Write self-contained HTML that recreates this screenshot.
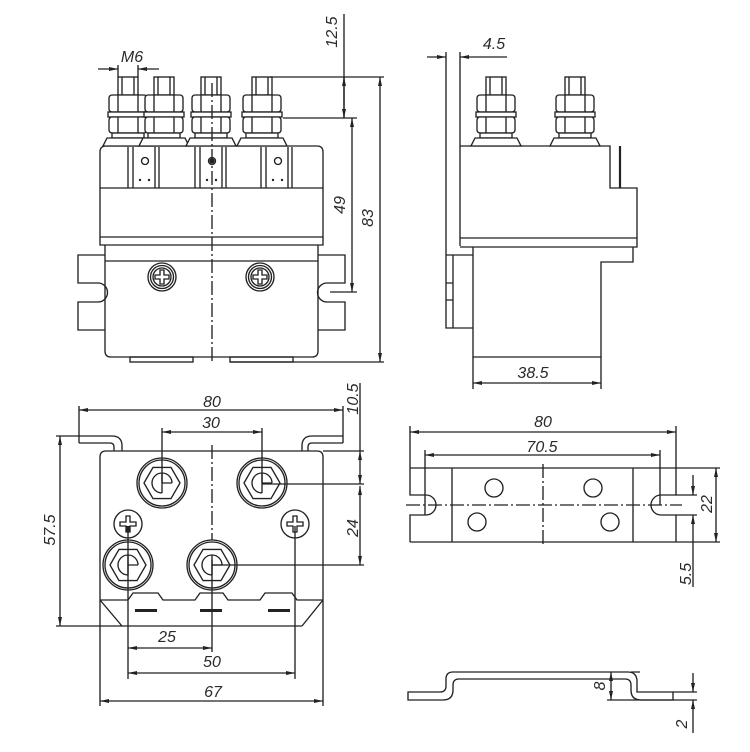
<!DOCTYPE html>
<html><head><meta charset="utf-8"><style>
html,body{margin:0;padding:0;background:#fff;}
svg{display:block;}
text{font-family:"Liberation Sans",sans-serif;font-style:italic;font-size:16px;fill:#2a2a2a;stroke:none;}
</style></head><body>
<svg width="750" height="752" viewBox="0 0 750 752" xmlns="http://www.w3.org/2000/svg">
<defs>
<marker id="a" viewBox="0 0 9 4" refX="9" refY="2" markerWidth="9" markerHeight="4" markerUnits="userSpaceOnUse" orient="auto-start-reverse"><path d="M0,0 L9,2 L0,4 z" fill="#222"/></marker>
<g id="term" stroke="#222" stroke-width="1.35" fill="#fff">
<rect x="-10" y="77" width="20" height="18"/>
<path d="M-6,77V95M6,77V95" fill="none"/>
<rect x="-19" y="95" width="38" height="17" rx="3"/>
<path d="M-10,95V112M10,95V112" fill="none"/>
<rect x="-20" y="112" width="40" height="5"/>
<rect x="-19" y="117" width="38" height="16" rx="3"/>
<path d="M-10,117V133M10,117V133" fill="none"/>
<rect x="-16" y="133" width="32" height="5"/>
<polygon points="-21,138 21,138 25,146 -25,146"/>
</g>
<g id="hexn" stroke="#222" stroke-width="1.35" fill="none">
<circle r="25" fill="#fff"/>
<circle r="23"/>
<polygon points="-18,0 -9,-15.6 9,-15.6 18,0 9,15.6 -9,15.6"/>
<path d="M0,10 A10,10 0 1 1 10,0 M0,0 H10 M0,-10 V10"/>
</g>
<g id="phil" stroke="#222" stroke-width="1.35" fill="none">
<circle r="14" fill="#fff"/>
<path d="M-2,-8H2V-2H8V2H2V8H-2V2H-8V-2H-2Z"/>
</g>
<g id="scr" stroke="#222" stroke-width="1.35" fill="none">
<circle r="14" fill="#fff"/>
<circle r="11.5"/>
<circle r="9"/>
<path d="M-2,-7H2V-2H7V2H2V7H-2V2H-7V-2H-2Z"/>
</g>
<g id="tab" stroke="#222" stroke-width="1.35" fill="none">
<path d="M-16,147V188M-11,147V188M11,147V188M15,147V188"/>
<circle cx="1" cy="161" r="3.5"/>
<circle cx="-4" cy="180" r="1.2" fill="#222" stroke="none"/>
<circle cx="5" cy="180" r="1.2" fill="#222" stroke="none"/>
</g>
</defs>

<g stroke="#222" stroke-width="1.35" fill="none">
<!-- ========== FRONT VIEW ========== -->
<path d="M100,188 V152 Q100,146 106,146 H317 Q323,146 323,152 V188"/>
<path d="M100,188 V245 H323 V188 Z"/>
<path d="M100,237 H323"/>
<path d="M105,245 V351 Q105,357 111,357 H312 Q318,357 318,351 V245"/>
<path d="M105,261 H318"/>
<rect x="130" y="357" width="63" height="5"/>
<rect x="230" y="357" width="63" height="5"/>
<path d="M105,255 H78 V283 H98 A9.5,9.5 0 0 1 98,302 H78 V330 H105"/>
<path d="M318,255 H345 V283 H327 A9.5,9.5 0 0 0 327,302 H345 V330 H318"/>
<use href="#tab" x="144"/>
<use href="#tab" x="211"/>
<use href="#tab" x="277"/>
<circle cx="212" cy="161" r="2" fill="#222"/>
<use href="#term" x="128"/>
<use href="#term" x="164"/>
<use href="#term" x="211"/>
<use href="#term" x="262"/>
<use href="#scr" x="162" y="277"/>
<use href="#scr" x="260" y="277"/>
<path d="M212,83 V363" stroke-dasharray="14 3 2 3"/>

<!-- M6 -->
<path d="M118,65 V77 M138,65 V77"/>
<path d="M98,69 H118" marker-end="url(#a)"/>
<path d="M159,69 H138" marker-end="url(#a)"/>
<!-- 12.5 / 49 / 83 -->
<path d="M270,77 H384 M283,118 H357 M330,292 H357 M230,362 H384"/>
<path d="M344,14 V118"/>
<path d="M344,77 V118" marker-start="url(#a)" marker-end="url(#a)"/>
<path d="M352,118 V292" marker-start="url(#a)" marker-end="url(#a)"/>
<path d="M380,77 V362" marker-start="url(#a)" marker-end="url(#a)"/>

<!-- ========== SIDE VIEW ========== -->
<path d="M446,52 V328 H473"/>
<path d="M460,52 V246"/>
<path d="M446,255 H473 M453,255 V328 M446,283 H453 M446,300 H453"/>
<path d="M460,146 H610 V188 H637 V247 H460"/>
<path d="M460,238 H637"/>
<path d="M620,146 V188" stroke-width="2.2"/>
<path d="M473,247 V357 H601 V262 H633 V247"/>
<use href="#term" x="496"/>
<use href="#term" x="575"/>
<!-- 4.5 -->
<path d="M427,57 H446" marker-end="url(#a)"/>
<path d="M507,57 H460" marker-end="url(#a)"/>
<!-- 38.5 -->
<path d="M473,357 V389 M601,357 V389"/>
<path d="M473,383 H601" marker-start="url(#a)" marker-end="url(#a)"/>

<!-- ========== BOTTOM VIEW ========== -->
<path d="M100,706 V457 Q100,451 106,451 H317 Q323,451 323,457 V706"/>
<path d="M56,436 H112 Q122,436 122,446 V451"/>
<path d="M79,443 H110 Q114,443 114,447 V451"/>
<path d="M79,406 V443"/>
<path d="M302,451 V446 Q302,436 312,436 H343"/>
<path d="M308,451 V447 Q308,443 312,443 H343"/>
<path d="M343,406 V443"/>
<path d="M100,600 L122,626 M323,600 L302,626 M56,626 H302"/>
<path d="M100,600 H128 L133,593 H158 L163,600 H195 L200,593 H223 L228,600 H260 L265,593 H292 L297,600 H323"/>
<rect x="135" y="609" width="22" height="3" fill="#222" stroke="none"/>
<rect x="200" y="609" width="22" height="3" fill="#222" stroke="none"/>
<rect x="268" y="609" width="22" height="3" fill="#222" stroke="none"/>
<path d="M212,445 V560" stroke-dasharray="14 3 2 3"/>
<use href="#hexn" x="162" y="483"/>
<use href="#hexn" x="262" y="483"/>
<use href="#hexn" x="128" y="565"/>
<use href="#hexn" x="212" y="565"/>
<use href="#phil" x="128" y="524"/>
<use href="#phil" x="295" y="524"/>
<rect x="126.5" y="526" width="3" height="6" fill="#222" stroke="none"/>
<path d="M162,428 V483 M262,428 V483 M262,484 H364 M212,565 H364 M323,451 H364"/>
<path d="M128,526 V679 M295,526 V679 M212,560 V652"/>
<path d="M79,410 H343" marker-start="url(#a)" marker-end="url(#a)"/>
<path d="M162,432 H262" marker-start="url(#a)" marker-end="url(#a)"/>
<path d="M60,436 V626" marker-start="url(#a)" marker-end="url(#a)"/>
<path d="M360,383 V451"/>
<path d="M360,451 V484" marker-start="url(#a)" marker-end="url(#a)"/>
<path d="M360,486 V565" marker-start="url(#a)" marker-end="url(#a)"/>
<path d="M128,648 H212" marker-start="url(#a)" marker-end="url(#a)"/>
<path d="M128,673 H295" marker-start="url(#a)" marker-end="url(#a)"/>
<path d="M100,701 H323" marker-start="url(#a)" marker-end="url(#a)"/>

<!-- ========== PLATE VIEW ========== -->
<path d="M410,468 H720 M410,542 H720"/>
<path d="M410,426 V495 H426 A10,10 0 0 1 426,515 H410 V542"/>
<path d="M676,426 V495 H661 A10,10 0 0 0 661,515 H676 V542"/>
<path d="M676,495 H697 M676,515 H697"/>
<path d="M425,450 V515 M660,450 V505"/>
<path d="M452,468 V542 M633,468 V542"/>
<circle cx="494" cy="488" r="9"/>
<circle cx="593" cy="488" r="9"/>
<circle cx="477" cy="522" r="9"/>
<circle cx="610" cy="522" r="9"/>
<path d="M543,464 V546" stroke-dasharray="14 3 2 3"/>
<path d="M406,505 H682" stroke-dasharray="14 3 2 3"/>
<path d="M410,432 H676" marker-start="url(#a)" marker-end="url(#a)"/>
<path d="M425,455 H660" marker-start="url(#a)" marker-end="url(#a)"/>
<path d="M716,468 V542" marker-start="url(#a)" marker-end="url(#a)"/>
<path d="M693,475 V495" marker-end="url(#a)"/>
<path d="M693,587 V515" marker-end="url(#a)"/>

<!-- ========== PROFILE ========== -->
<path d="M408,692 H440 Q446,692 446,686 V679 Q446,672 453,672 H628 Q636,672 637,680 V692 H673 V700 H641 Q631,700 631,690 V685 Q631,679 625,679 H459 Q453,679 453,685 V690 Q453,700 443,700 H408 Z"/>
<path d="M607,700 H697 M673,692 H697 M631,672 H640"/>
<path d="M611,672 V700" marker-start="url(#a)" marker-end="url(#a)"/>
<path d="M693,673 V692" marker-end="url(#a)"/>
<path d="M693,733 V700" marker-end="url(#a)"/>
</g>

<!-- ========== TEXT ========== -->
<text x="132" y="62" text-anchor="middle" font-size="15">M6</text>
<text transform="translate(337,32) rotate(-90)" text-anchor="middle">12.5</text>
<text transform="translate(345,205) rotate(-90)" text-anchor="middle">49</text>
<text transform="translate(373,218) rotate(-90)" text-anchor="middle">83</text>
<text x="494" y="49" text-anchor="middle" font-size="15">4.5</text>
<text x="533" y="378" text-anchor="middle" font-size="15">38.5</text>
<text x="212" y="407" text-anchor="middle" font-size="15">80</text>
<text x="211" y="428" text-anchor="middle" font-size="15">30</text>
<text transform="translate(55,530) rotate(-90)" text-anchor="middle">57.5</text>
<text transform="translate(358,399) rotate(-90)" text-anchor="middle">10.5</text>
<text transform="translate(358,528) rotate(-90)" text-anchor="middle">24</text>
<text x="167" y="642" text-anchor="middle" font-size="15">25</text>
<text x="212" y="667" text-anchor="middle" font-size="15">50</text>
<text x="213" y="697" text-anchor="middle" font-size="15">67</text>
<text x="543" y="427" text-anchor="middle" font-size="15">80</text>
<text x="542" y="452" text-anchor="middle" font-size="15">70.5</text>
<text transform="translate(712,504) rotate(-90)" text-anchor="middle">22</text>
<text transform="translate(691,574) rotate(-90)" text-anchor="middle">5.5</text>
<text transform="translate(605,686) rotate(-90)" text-anchor="middle" font-size="13">8</text>
<text transform="translate(687,724) rotate(-90)" text-anchor="middle">2</text>
</svg>
</body></html>
